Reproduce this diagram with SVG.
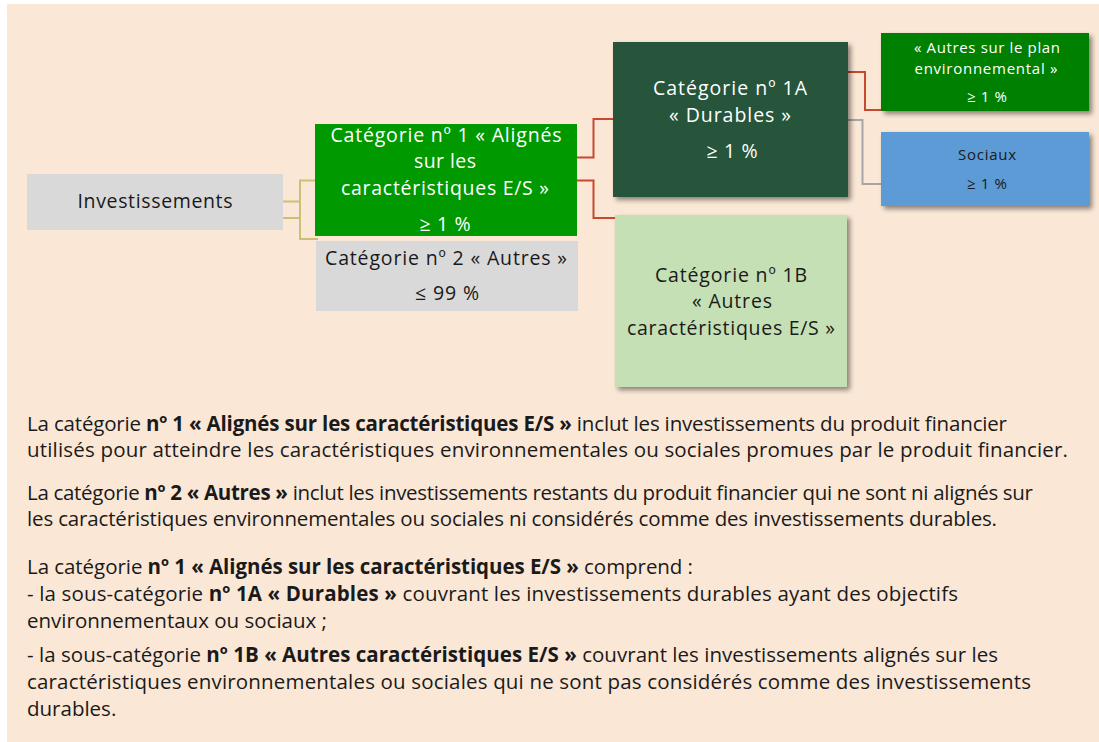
<svg xmlns="http://www.w3.org/2000/svg" width="1099" height="742" viewBox="0 0 1099 742">
  <defs>
    <filter id="shadow" x="-10%" y="-10%" width="125%" height="130%">
      <feGaussianBlur in="SourceAlpha" stdDeviation="2.5"/>
      <feOffset dx="3" dy="3" result="b"/>
      <feComponentTransfer><feFuncA type="linear" slope="0.45"/></feComponentTransfer>
      <feMerge><feMergeNode/><feMergeNode in="SourceGraphic"/></feMerge>
    </filter>
  </defs>
  <style>
    text { font-family: "Open Sans", "Noto Sans", "Liberation Sans", sans-serif; }
    .box { font-size: 19.5px; text-anchor: middle; }
    .small { font-size: 15px; text-anchor: middle; }
    .w { fill: #ffffff; }
    .k { fill: #1a1a1a; }
    .p { font-size: 20.5px; fill: #1a1a1a; }
    .b { font-weight: bold; }
    .gold { fill: none; stroke: #cdbf78; stroke-width: 2; }
    .red { fill: none; stroke: #c8492c; stroke-width: 2; }
    .grey { fill: none; stroke: #a6a6a6; stroke-width: 2; }
  </style>
  <rect x="0" y="0" width="1099" height="742" fill="#ffffff"/>
  <rect x="7" y="4" width="1092" height="738" fill="#fae7d6"/>

  <g id="connectors">
    <polyline class="gold" points="283,201.5 300,201.5"/>
    <polyline class="gold" points="283,218 300,218"/>
    <polyline class="gold" points="315,180.5 300,180.5 300,239 318,239"/>
    <polyline class="red" points="577,157.5 593.5,157.5 593.5,119 613,119"/>
    <polyline class="red" points="577,180.5 593.5,180.5 593.5,218 615,218"/>
    <polyline class="red" points="848,72 865,72 865,110 881,110"/>
    <polyline class="grey" points="848,120 862.5,120 862.5,184 881,184"/>
  </g>

  <g id="investissements">
    <rect x="27" y="174" width="256" height="56" fill="#d9d9d9"/>
    <text class="box k" x="155" y="208" textLength="155">Investissements</text>
  </g>

  <g id="cat1">
    <rect x="315" y="124" width="262" height="112" fill="#009900"/>
    <text class="box w" x="446" y="142" textLength="231">Catégorie nº 1 « Alignés</text>
    <text class="box w" x="445" y="168" textLength="62">sur les</text>
    <text class="box w" x="445" y="195" textLength="208">caractéristiques E/S »</text>
    <text class="box w" x="445" y="231" textLength="51">≥ 1 %</text>
  </g>

  <g id="cat2">
    <rect x="316" y="241" width="262" height="70" fill="#d9d9d9"/>
    <text class="box k" x="446" y="265" textLength="242">Catégorie nº 2 « Autres »</text>
    <text class="box k" x="447" y="300" textLength="64">≤ 99 %</text>
  </g>

  <g id="cat1a">
    <rect x="613" y="42" width="235" height="155" fill="#26553b" filter="url(#shadow)"/>
    <text class="box w" x="730" y="95" textLength="154">Catégorie nº 1A</text>
    <text class="box w" x="730" y="122" textLength="122">« Durables »</text>
    <text class="box w" x="732" y="158" textLength="51">≥ 1 %</text>
  </g>

  <g id="cat1b">
    <rect x="615" y="215" width="232" height="172" fill="#c5e0b4" filter="url(#shadow)"/>
    <text class="box k" x="731" y="282" textLength="152">Catégorie nº 1B</text>
    <text class="box k" x="732" y="308" textLength="80">« Autres</text>
    <text class="box k" x="731" y="335" textLength="208">caractéristiques E/S »</text>
  </g>

  <g id="autres-env">
    <rect x="881" y="33" width="208" height="78" fill="#008000" filter="url(#shadow)"/>
    <text class="small w" x="987" y="53" textLength="146">« Autres sur le plan</text>
    <text class="small w" x="986" y="74" textLength="143">environnemental »</text>
    <text class="small w" x="987" y="102" textLength="40">≥ 1 %</text>
  </g>

  <g id="sociaux">
    <rect x="881" y="132" width="208" height="74" fill="#5b9bd5" filter="url(#shadow)"/>
    <text class="small k" x="987" y="160" textLength="58">Sociaux</text>
    <text class="small k" x="987" y="189" textLength="40">≥ 1 %</text>
  </g>

  <g id="legend">
    <text class="p" x="27" y="431" textLength="980">La catégorie  <tspan class="b">nº 1 « Alignés sur les caractéristiques E/S »</tspan> inclut les investissements du produit financier</text>
    <text class="p" x="27" y="457" textLength="1041">utilisés pour atteindre les caractéristiques environnementales ou sociales promues par le produit financier.</text>
    <text class="p" x="27" y="500" textLength="1006">La catégorie <tspan class="b">nº 2 « Autres »</tspan> inclut les investissements restants du produit financier qui ne sont ni alignés sur</text>
    <text class="p" x="27" y="526" textLength="970">les caractéristiques environnementales ou sociales ni considérés comme des investissements durables.</text>
    <text class="p" x="27" y="574" textLength="666">La catégorie <tspan class="b">nº 1 « Alignés sur les caractéristiques E/S »</tspan> comprend :</text>
    <text class="p" x="27" y="601" textLength="931">- la sous-catégorie <tspan class="b">nº 1A « Durables »</tspan> couvrant les investissements durables ayant des objectifs</text>
    <text class="p" x="27" y="628">environnementaux ou sociaux ;</text>
    <text class="p" x="27" y="662" textLength="971">- la sous-catégorie <tspan class="b">nº 1B « Autres caractéristiques E/S »</tspan> couvrant les investissements alignés sur les</text>
    <text class="p" x="27" y="689" textLength="1004">caractéristiques environnementales ou sociales qui ne sont pas considérés comme des investissements</text>
    <text class="p" x="27" y="716">durables.</text>
  </g>
</svg>
